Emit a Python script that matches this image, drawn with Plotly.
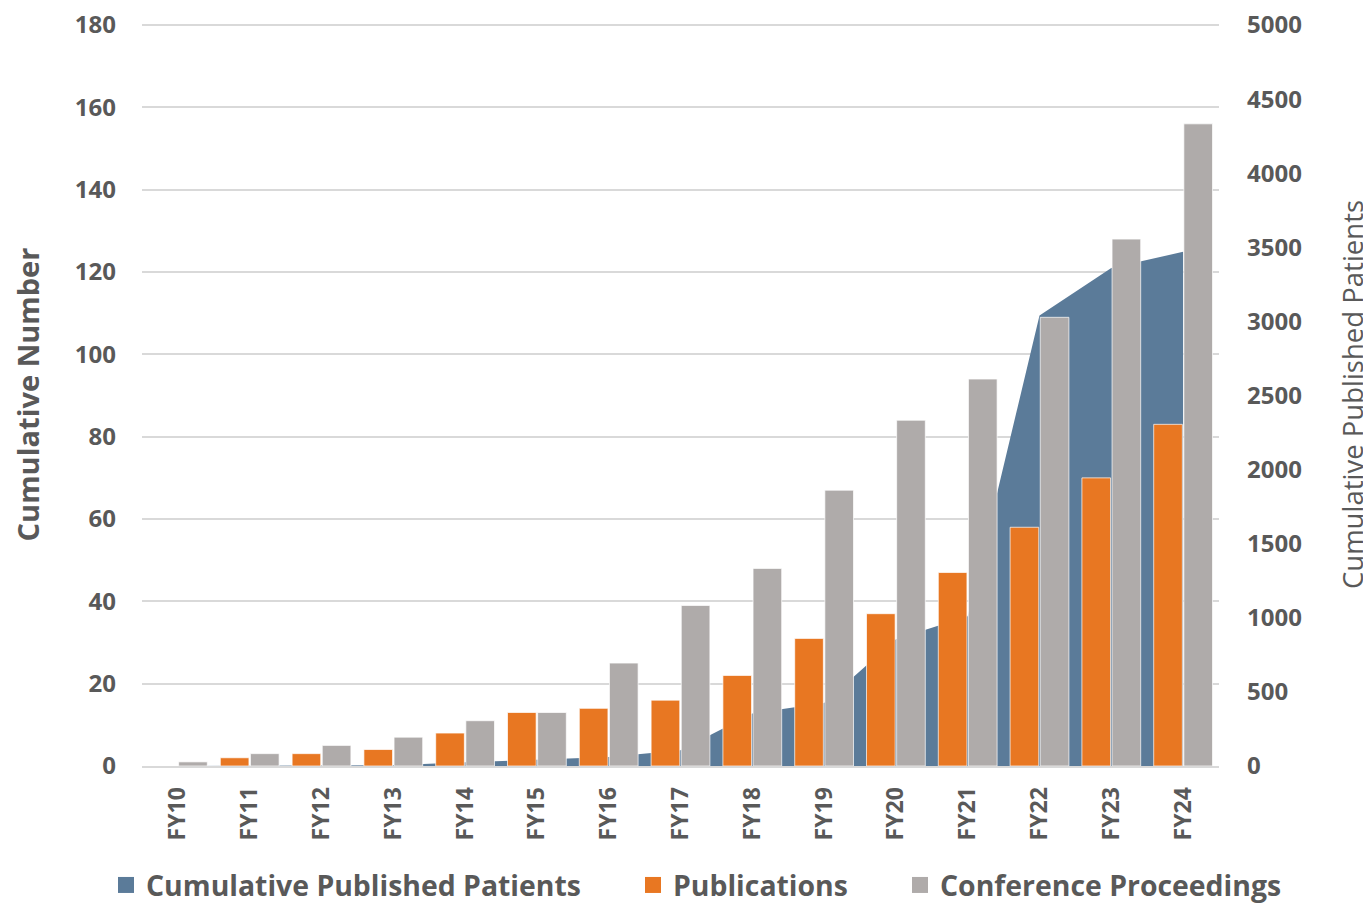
import plotly.graph_objects as go

categories = ["FY10", "FY11", "FY12", "FY13", "FY14", "FY15", "FY16", "FY17",
              "FY18", "FY19", "FY20", "FY21", "FY22", "FY23", "FY24"]
publications = [0, 2, 3, 4, 8, 13, 14, 16, 22, 31, 37, 47, 58, 70, 83]
conference_proceedings = [1, 3, 5, 7, 11, 13, 25, 39, 48, 67, 84, 94, 109, 128, 156]
cumulative_patients = [0, 0, 0, 5, 25, 45, 60, 106, 355, 425, 855, 1010, 3040, 3360, 3470]

left_ticks = list(range(0, 181, 20))
right_ticks = list(range(0, 5001, 500))

series_names = ["Cumulative Published Patients", "Publications", "Conference Proceedings"]

BLUE = "#5B7B99"
ORANGE = "#E87722"
GRAY = "#AFABAA"
TXT = "#595959"
FONT = "Open Sans"

# the page body keeps its default 8px margin: shift everything by it
PAD = 8
W, H = 1371 - PAD, 905 - PAD

# plot area in window pixels
PL, PR, PT, PB = 142, 1219, 25, 766
LEFT_MAX, RIGHT_MAX = 180, 5000
EXTRA = 0.5  # tiny headroom so the top gridline is drawn
px_per_unit = (PB - PT) / LEFT_MAX
extra_px = EXTRA * px_per_unit

fig = go.Figure()

fig.add_trace(go.Scatter(x=categories, y=cumulative_patients, name=series_names[0],
                         mode="lines", line=dict(color=BLUE, width=0), fill="tozeroy",
                         fillcolor=BLUE, yaxis="y", showlegend=False))

bar_line = dict(color="rgba(255,255,255,0.7)", width=1)
fig.add_trace(go.Bar(x=categories, y=publications, name=series_names[1],
                     marker=dict(color=ORANGE, line=bar_line), yaxis="y2", showlegend=False))
fig.add_trace(go.Bar(x=categories, y=conference_proceedings, name=series_names[2],
                     marker=dict(color=GRAY, line=bar_line), yaxis="y2", showlegend=False))

# legend proxies (square swatches), one legend each so positions can match
legend_ids = ["legend", "legend2", "legend3"]
legend_text_x = [146, 673, 940]
for name, col, lid in zip(series_names, [BLUE, ORANGE, GRAY], legend_ids):
    fig.add_trace(go.Scatter(x=[None], y=[None], name=name, mode="markers",
                             marker=dict(symbol="square", size=18, color=col),
                             yaxis="y", legend=lid, showlegend=True))

legend_font = dict(family=FONT, size=28.4, color=TXT, weight="bold")
legends = {}
for lid, tx in zip(legend_ids, legend_text_x):
    legends[lid] = dict(orientation="h", xref="container", yref="container",
                        x=(tx - PAD - 40) / W, xanchor="left",
                        y=(H - (885 - PAD)) / H, yanchor="middle",
                        font=legend_font, itemsizing="trace",
                        bgcolor="rgba(0,0,0,0)", borderwidth=0)

fig.update_layout(
    width=W, height=H,
    margin=dict(l=PL - PAD, r=W - (PR - PAD), t=PT - PAD - extra_px,
                b=H - (PB - PAD), autoexpand=False),
    paper_bgcolor="white", plot_bgcolor="white",
    barmode="group", bargap=0.16, bargroupgap=0.05,
    font=dict(family=FONT, color=TXT),
    xaxis=dict(type="category", categoryorder="array", categoryarray=categories,
               range=[-0.5, len(categories) - 0.5], automargin=False,
               showline=True, linecolor="#D9D9D9", linewidth=2,
               showgrid=False, zeroline=False, ticks="",
               tickangle=-90, ticklabelstandoff=10,
               tickfont=dict(family=FONT, size=23, color=TXT, weight="bold")),
    yaxis=dict(side="right", range=[0, RIGHT_MAX * (LEFT_MAX + EXTRA) / LEFT_MAX],
               tickvals=right_ticks, automargin=False, ticklabeloverflow="allow",
               showgrid=False, zeroline=False, showline=False, ticks="",
               ticklabelstandoff=27,
               tickfont=dict(family=FONT, size=24, color=TXT, weight="bold"),
               title=dict(text="Cumulative Published Patients", standoff=51,
                          font=dict(family=FONT, size=27.5, color=TXT))),
    yaxis2=dict(side="left", overlaying="y", range=[0, LEFT_MAX + EXTRA], tickvals=left_ticks,
                automargin=False, ticklabeloverflow="allow",
                showgrid=True, gridcolor="#D9D9D9", gridwidth=2,
                zeroline=False, showline=False, ticks="",
                ticklabelstandoff=25,
                tickfont=dict(family=FONT, size=24, color=TXT, weight="bold"),
                title=dict(text="Cumulative Number", standoff=28,
                           font=dict(family=FONT, size=29, color=TXT, weight="bold"))),
    **legends,
)

fig.write_html("out.html")
